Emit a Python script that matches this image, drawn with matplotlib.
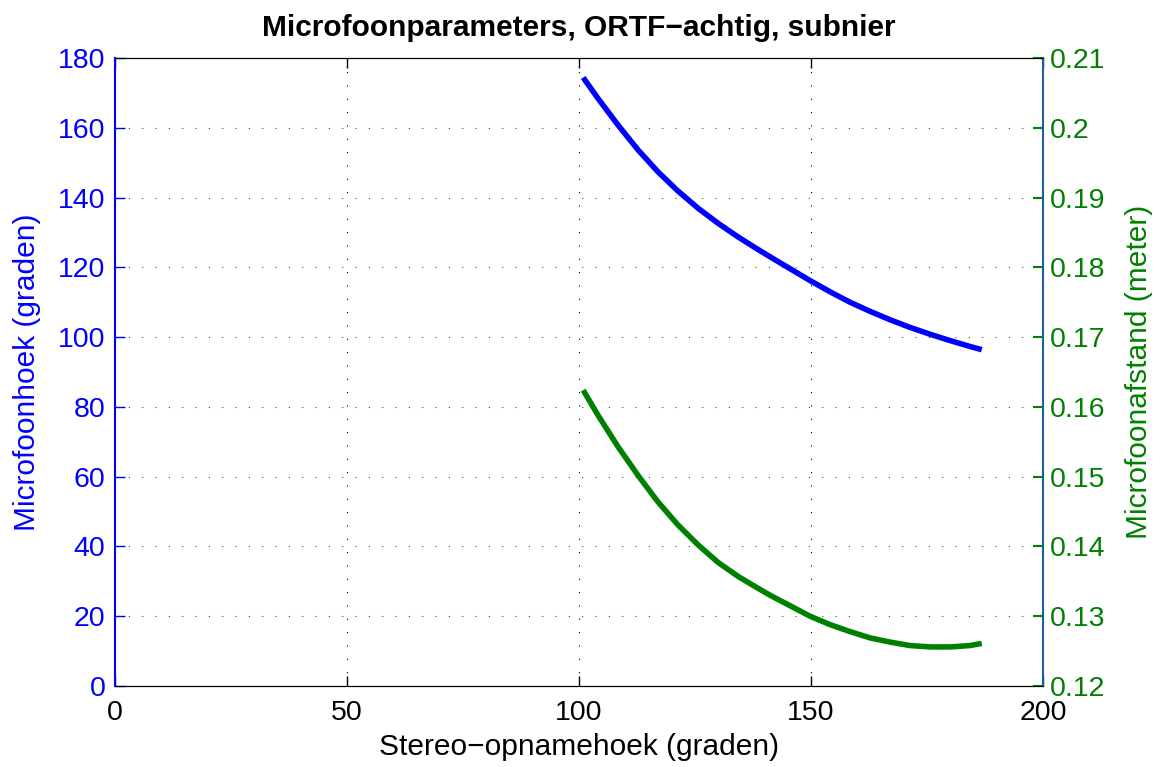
import matplotlib
matplotlib.use("Agg")
import matplotlib.pyplot as plt

plt.rcParams['font.family'] = ['Liberation Sans', 'DejaVu Sans']

# Data
x_vals = [100.9, 104.1, 108.4, 112.7, 117.0, 121.3, 125.7, 130.0, 134.3, 138.6, 141.2,
          145.5, 149.8, 154.1, 158.4, 162.7, 167.0, 171.3, 175.7, 180.0, 184.3, 186.8]
mic_angle = [174.4, 168.4, 160.8, 153.7, 147.4, 141.9, 136.9, 132.6, 128.7, 125.1, 123.0,
             119.6, 116.2, 113.0, 110.0, 107.4, 105.0, 102.8, 100.8, 99.0, 97.3, 96.4]
mic_dist = [0.1624, 0.1588, 0.1543, 0.1502, 0.1464, 0.1431, 0.1402, 0.1377, 0.1357, 0.1340, 0.1330,
            0.1315, 0.1300, 0.1288, 0.1278, 0.1269, 0.1263, 0.1258, 0.1256, 0.1256, 0.1258, 0.1261]

x_ticks = [0, 50, 100, 150, 200]
left_ticks = [0, 20, 40, 60, 80, 100, 120, 140, 160, 180]
right_ticks = [0.12, 0.13, 0.14, 0.15, 0.16, 0.17, 0.18, 0.19, 0.2, 0.21]
right_labels = ['0.12', '0.13', '0.14', '0.15', '0.16', '0.17', '0.18', '0.19', '0.2', '0.21']

BLUE = '#0000ff'
GREEN = '#008000'

fig = plt.figure(figsize=(11.6, 7.67), dpi=100)
ax = fig.add_axes([115/1160, 1-686/767, (1043-115)/1160, (686-58)/767])
ax2 = ax.twinx()

ax.plot(x_vals, mic_angle, color=BLUE, lw=4, solid_capstyle='butt', solid_joinstyle='round')
ax2.plot(x_vals, mic_dist, color=GREEN, lw=4, solid_capstyle='butt', solid_joinstyle='round')

ax.set_xlim(0, 200)
ax.set_ylim(0, 180)
ax2.set_ylim(0.12, 0.21)
ax.set_xticks(x_ticks)
ax.set_yticks(left_ticks)
ax2.set_yticks(right_ticks)
ax2.set_yticklabels(right_labels)

dot = (0, (1, 11))
ax.xaxis.grid(True, color='black', linestyle=dot, lw=0.8)
ax.yaxis.grid(True, color=GREEN, linestyle=dot, lw=0.8)
ax.set_axisbelow(True)

fs_tick = 20.5
fs_lab = 21.5
ax.tick_params(axis='x', direction='in', length=7, width=1, labelsize=fs_tick, top=True, colors='black', pad=10)
ax.tick_params(axis='y', direction='in', length=7, width=1, labelsize=fs_tick, colors=BLUE, pad=7)
ax2.tick_params(axis='y', direction='in', length=7, width=1.5, labelsize=fs_tick, colors=GREEN, pad=5)

for s in ['top', 'bottom']:
    ax.spines[s].set_color('black')
    ax2.spines[s].set_color('black')
ax.spines['left'].set_color(BLUE)
ax.spines['left'].set_linewidth(1.5)
ax2.spines['left'].set_visible(False)
ax2.spines['right'].set_color('#1f5fa0')
ax2.spines['right'].set_linewidth(1.5)
ax.spines['right'].set_visible(False)

ax.set_xlabel('Stereo\u2212opnamehoek (graden)', fontsize=fs_lab, color='black', labelpad=5)
ax.set_ylabel('Microfoonhoek (graden)', fontsize=fs_lab, color=BLUE, labelpad=12)
ax2.set_ylabel('Microfoonafstand (meter)', fontsize=fs_lab, color=GREEN, labelpad=14)
ax.set_title('Microfoonparameters, ORTF\u2212achtig, subnier', fontsize=fs_lab, fontweight='bold', pad=16)

fig.savefig('out.png', dpi=100)
